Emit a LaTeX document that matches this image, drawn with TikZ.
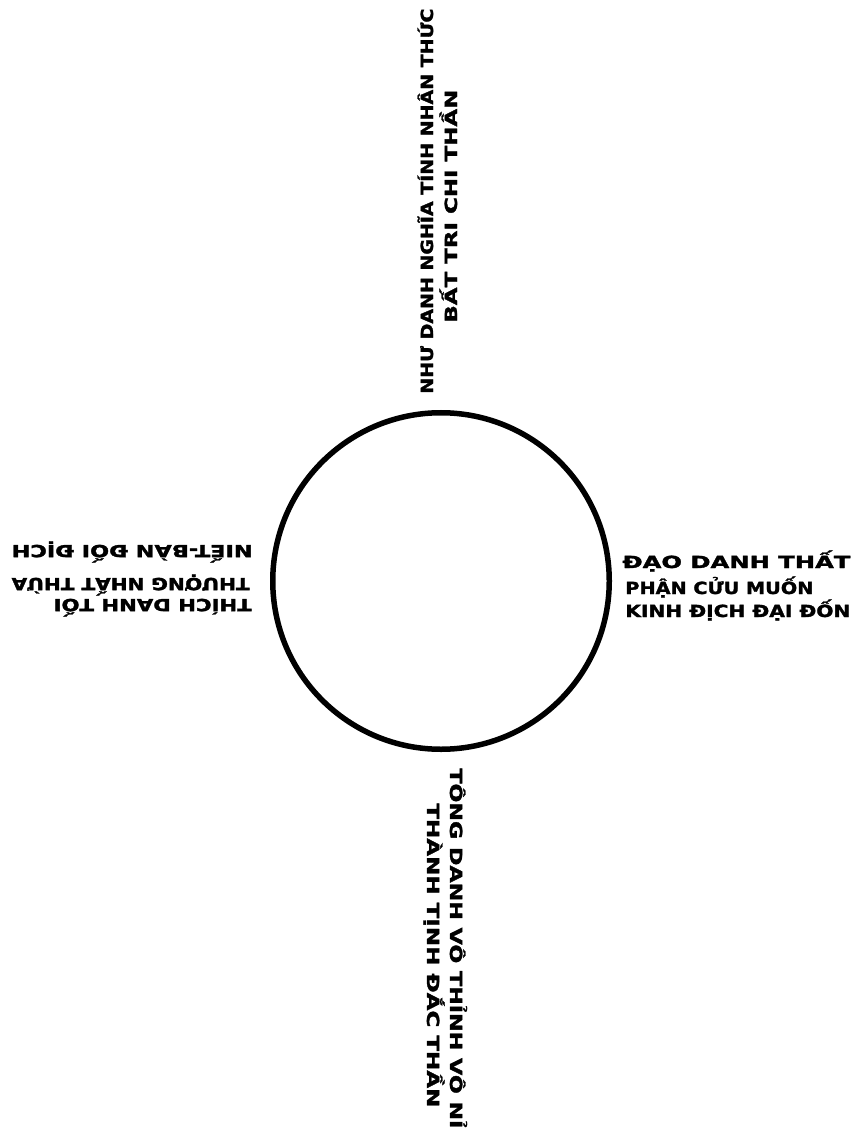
\documentclass[tikz,border=0pt]{standalone}
\usepackage{fontspec}
\usepackage{graphicx}
\newfontfamily\signfont[FakeBold=1.6]{DejaVu Sans Bold}
\newlength\pxu
\setlength\pxu{0.2mm}
\newcommand{\fitline}[2]{\resizebox{#1\pxu}{\height}{#2}}
\begin{document}
\begin{tikzpicture}[x=0.2mm,y=-0.2mm,
  ring/.style={draw, circle, line width=1.1mm, minimum size=6.73cm, inner sep=0pt},
  sign/.style={inner sep=0pt, anchor=base west, font=\signfont\fontsize{9.5}{10}\selectfont}]
 \useasboundingbox (0,0) rectangle (857,1132);
 \node[ring] (ring) at (441,581) {};
 \node[sign] (rightA) at (622,568) {\fitline{228}{ĐẠO DANH THẤT}};
 \node[sign] (rightB) at (625,594) {\fitline{188}{PHẬN CỬU MUỐN}};
 \node[sign] (rightC) at (625,617) {\fitline{225}{KINH ĐỊCH ĐẠI ĐỐN}};
 \node[sign, rotate=180] (leftA) at (252,599) {\fitline{198}{THÍCH DANH TỐI}};
 \node[sign, rotate=180] (leftB) at (250,578) {\fitline{238}{THƯỢNG NHẤT THỪA}};
 \node[sign, rotate=180] (leftC) at (253,545) {\fitline{241}{NIẾT-BÀN ĐỐI ĐỊCH}};
 \node[sign, rotate=90] (topA) at (433,394) {\fitline{385}{NHƯ DANH NGHĨA TÍNH NHÂN THỨC}};
 \node[sign, rotate=90] (topB) at (457,323) {\fitline{233}{BẤT TRI CHI THẦN}};
 \node[sign, rotate=-90] (botA) at (450,768) {\fitline{360}{TÔNG DANH VÔ THỈNH VÔ NỈ}};
 \node[sign, rotate=-90] (botB) at (427,803) {\fitline{304}{THÀNH TỊNH ĐẮC THẦN}};
\end{tikzpicture}
\end{document}
